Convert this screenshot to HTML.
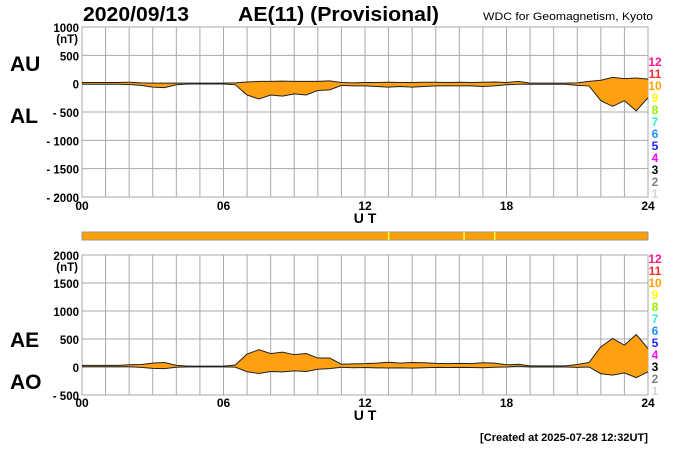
<!DOCTYPE html>
<html><head><meta charset="utf-8"><style>
html,body{margin:0;padding:0;background:#fff;}
svg{display:block;font-family:"Liberation Sans",sans-serif;}
</style></head><body>
<svg id="c" width="700" height="450" xmlns="http://www.w3.org/2000/svg">
<text x="83" y="21" font-size="20" font-weight="bold" textLength="106" lengthAdjust="spacingAndGlyphs">2020/09/13</text>
<text x="238" y="21" font-size="20" font-weight="bold" textLength="201" lengthAdjust="spacingAndGlyphs">AE(11) (Provisional)</text>
<text x="483" y="20" font-size="11" textLength="170" lengthAdjust="spacingAndGlyphs">WDC for Geomagnetism, Kyoto</text>
<text x="10" y="71" font-size="21" font-weight="bold">AU</text>
<text x="10" y="123" font-size="21" font-weight="bold">AL</text>
<text x="10" y="347" font-size="21" font-weight="bold">AE</text>
<text x="10" y="389" font-size="21" font-weight="bold">AO</text>
<text x="648" y="441" font-size="11" font-weight="bold" text-anchor="end" textLength="168" lengthAdjust="spacingAndGlyphs">[Created at 2025-07-28 12:32UT]</text>
<g id="g"></g>
</svg>
<script>
const hours=[0,0.5,1,1.5,2,2.5,3,3.5,4,4.5,5,5.5,6,6.5,7,7.5,8,8.5,9,9.5,10,10.5,11,11.5,12,12.5,13,13.5,14,14.5,15,15.5,16,16.5,17,17.5,18,18.5,19,19.5,20,20.5,21,21.5,22,22.5,23,23.5,24];
const auValues=[20,20,20,20,25,15,10,10,10,10,10,10,10,15,30,40,40,45,40,40,40,50,20,15,20,20,25,20,20,25,25,20,25,20,25,30,20,40,10,10,10,10,15,40,60,110,90,100,80];
const alValues=[-10,-10,-10,-10,-15,-30,-60,-70,-20,-5,-5,-5,-5,-20,-200,-270,-200,-220,-180,-200,-120,-110,-30,-40,-40,-50,-60,-50,-60,-50,-40,-40,-40,-40,-50,-40,-20,-10,-10,-10,-10,-10,-30,-40,-300,-400,-300,-480,-250];
const topTicks=[1000,500,0,-500,-1000,-1500,-2000];
const topTickLabels=["1000","500","0","- 500","- 1000","- 1500","- 2000"];
const botTicks=[2000,1500,1000,500,0,-500];
const botTickLabels=["2000","1500","1000","500","0","- 500"];
const xTicks=[0,6,12,18,24];
const xTickLabels=["00","06","12","18","24"];
const legendNums=["12","11","10","9","8","7","6","5","4","3","2","1"];
const legendColors=["#ff1493","#ff2a2a","#ffa500","#ffff00","#99ee00","#33eecc","#1e90ff","#2020ff","#ff00ff","#000000","#808080","#d3d3d3"];
const badHours=[13,16.2,17.5];

const NS="http://www.w3.org/2000/svg";
const g=document.getElementById('g');
function mk(t,a,p){const e=document.createElementNS(NS,t);for(const k in a)e.setAttribute(k,a[k]);(p||g).appendChild(e);return e;}
const X0=82,X1=648;
const x=h=>X0+(X1-X0)*h/24;
const yTop=v=>27+(1000-v)*170/3000;
const yBot=v=>255+(2000-v)*140/2500;
const aeValues=auValues.map((u,i)=>u-alValues[i]);
const aoValues=auValues.map((u,i)=>(u+alValues[i])/2);

function panel(y,t0,t1,ticks,labels,upper,lower,name,yT,xLabY){
  const pg=mk('g',{});
  
  
  mk('rect',{x:X0,y:y(t0),width:X1-X0,height:y(t1)-y(t0),fill:'#fff',stroke:'#aaa'},pg);
  for(let h=1;h<24;h++){const l=mk('line',{x1:x(h),x2:x(h),y1:y(t0),y2:y(t1),stroke:'#aaa','stroke-width':1},pg);}
  ticks.forEach((v,i)=>{
    const l=mk('line',{x1:X0,x2:X1,y1:y(v),y2:y(v),stroke:'#aaa'},pg);
    
    
    const t=mk('text',{x:79,y:y(v)+5,'font-size':11.5,'font-weight':'bold','text-anchor':'end'},pg);
    t.textContent=labels[i];
    
    
  });
  const u=mk('text',{x:78,y:y(t0)+16,'font-size':11.5,'font-weight':'bold','text-anchor':'end'},pg);u.textContent='(nT)';
  
  
  let d='M'+hours.map((h,i)=>x(h)+','+y(upper[i])).join('L');
  for(let i=hours.length-1;i>=0;i--)d+='L'+x(hours[i])+','+y(lower[i]);
  const a=mk('path',{d:d+'Z',fill:'#ffa010',stroke:'none'},pg);
  
  
  [upper,lower].forEach((arr,k)=>{
    const l=mk('polyline',{points:hours.map((h,i)=>x(h)+','+y(arr[i])).join(' '),fill:'none',stroke:'#222','stroke-width':1},pg);
    
    
  });
  xTicks.forEach((h,i)=>{const t=mk('text',{x:x(h),y:xLabY,'font-size':12,'font-weight':'bold','text-anchor':'middle'},pg);t.textContent=xTickLabels[i];
    
    });
  const ut=mk('text',{x:365,y:xLabY+13,'font-size':14,'font-weight':'bold','text-anchor':'middle'},pg);ut.textContent='U T';
  
  
  legendNums.forEach((n,i)=>{const t=mk('text',{x:655,y:yT+i*12,'font-size':12,'font-weight':'bold','text-anchor':'middle',fill:legendColors[i]},pg);t.textContent=n;
    
    });
}
panel(yTop,1000,-2000,topTicks,topTickLabels,auValues,alValues,'au-al-panel',66,210);
panel(yBot,2000,-500,botTicks,botTickLabels,aeValues,aoValues,'ae-ao-panel',263,407);
const bar=mk('rect',{x:X0,y:232,width:X1-X0,height:8,fill:'#ffa000',stroke:'#999'});


badHours.forEach(h=>{const l=mk('line',{x1:x(h),x2:x(h),y1:232,y2:240,stroke:'#ffff40','stroke-width':1.5});
  
  });
</script>
</body></html>
